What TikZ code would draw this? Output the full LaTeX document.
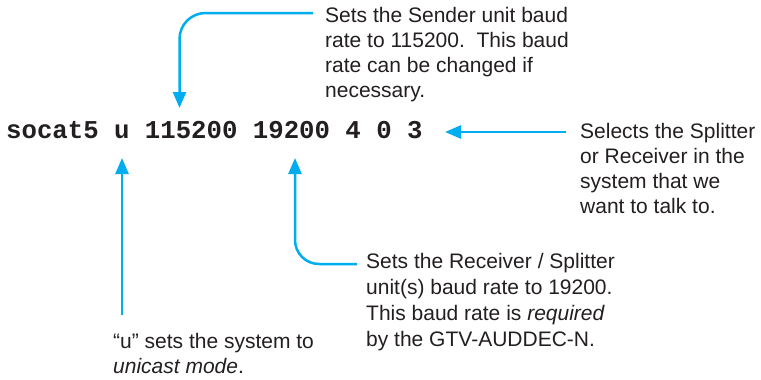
\documentclass[tikz,border=0pt]{standalone}
\usepackage{fontspec}
\setmainfont{Liberation Sans}
\newfontfamily\cmdfont{Liberation Mono}
\usetikzlibrary{arrows.meta}
\definecolor{arrowblue}{HTML}{00AEEF}
\definecolor{txt}{HTML}{231F20}
\begin{document}
\begin{tikzpicture}[x=1pt,y=-1pt,
  note/.style={anchor=base west, inner sep=0pt, align=left, text=txt, font=\fontsize{21}{25}\selectfont},
  cmdtext/.style={anchor=base west, inner sep=0pt, text=txt, font=\cmdfont\bfseries\fontsize{25.7}{30}\selectfont},
  conn/.style={draw=arrowblue, line width=2.5pt, -{Triangle[length=16pt,width=13pt]}}]
\useasboundingbox (0,0) rectangle (761,380);
\node[cmdtext] (cmd) at (6,138) {socat5 u 115200 19200 4 0 3};
\node[note] (t1) at (325,97) {Sets the Sender unit baud\\rate to 115200.\ \ This baud\\rate can be changed if\\necessary.};
\node[note] (t2) at (580,213) {Selects the Splitter\\or Receiver in the\\system that we\\want to talk to.};
\node[note] (t3) at (113,373) {“u” sets the system to\\\textit{unicast mode}.};
\node[note, font=\fontsize{21}{25.7}\selectfont] (t4) at (366,346) {Sets the Receiver / Splitter\\unit(s) baud rate to 19200.\\This baud rate is \textit{required}\\by the GTV-AUDDEC-N.};
\coordinate (a1s) at (313,13);
\coordinate (a1e) at (179.5,108);
\coordinate (a2s) at (566,132);
\coordinate (a2e) at (445,132);
\coordinate (a3s) at (122,315);
\coordinate (a3e) at (122,158);
\coordinate (a4s) at (357,264);
\coordinate (a4e) at (295,158);
\draw[conn, rounded corners=26pt] (a1s) -| (a1e);
\draw[conn] (a2s) -- (a2e);
\draw[conn] (a3s) -- (a3e);
\draw[conn, rounded corners=24pt] (a4s) -| (a4e);
\end{tikzpicture}
\end{document}
